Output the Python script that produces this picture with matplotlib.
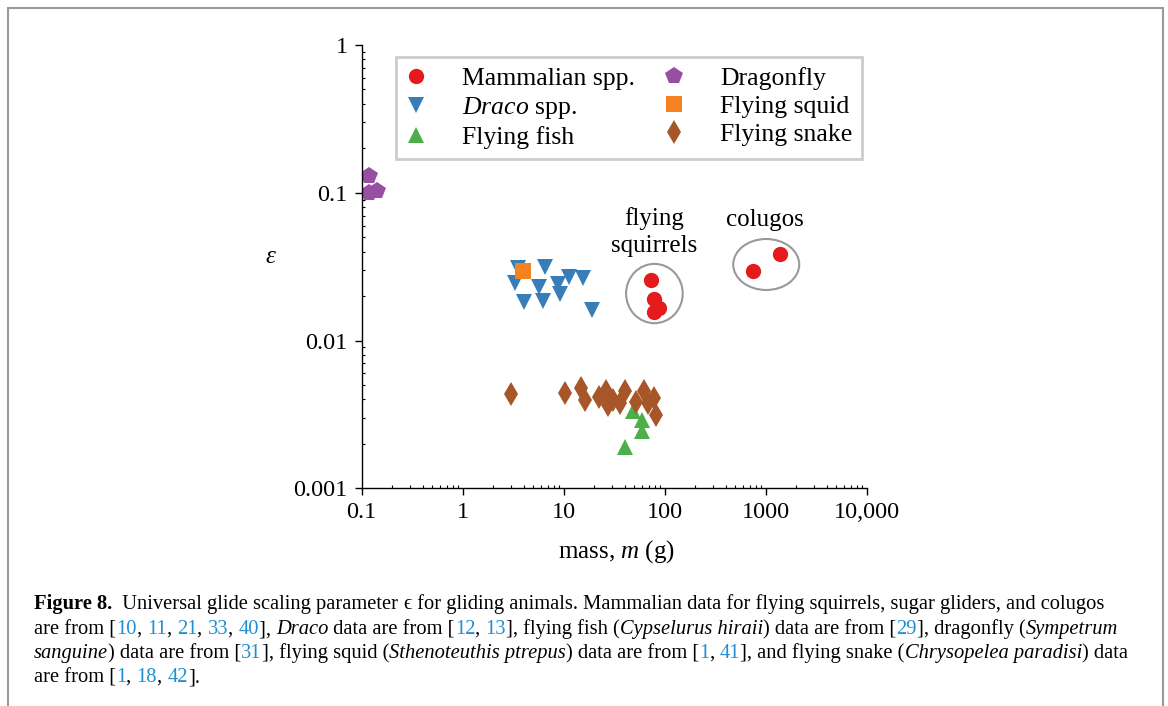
import matplotlib
matplotlib.use("Agg")
import matplotlib.pyplot as plt
import matplotlib.transforms as mtransforms
from matplotlib.patches import Ellipse, Rectangle
from matplotlib.font_manager import FontProperties

# --- données (masse en g, epsilon) ---
mammal_m = [73.4, 77.9, 88.6, 79.1, 752, 1391]
mammal_eps = [0.0257, 0.0191, 0.0165, 0.0156, 0.0297, 0.0384]

draco_m = [3.53, 6.58, 3.32, 5.69, 8.84, 11.3, 15.5, 9.11, 4.02, 6.23, 18.9]
draco_eps = [0.0308, 0.0316, 0.0244, 0.0232, 0.0242, 0.0268, 0.0264, 0.0207, 0.0183, 0.0185, 0.0161]

fish_m = [48.3, 59.8, 59.8, 40.0]
fish_eps = [0.00336, 0.00290, 0.00246, 0.00189]

dragonfly_m = [0.118, 0.118, 0.1416]
dragonfly_eps = [0.130, 0.0997, 0.1029]

squid_m = [3.99]
squid_eps = [0.0297]

snake_m = [2.99, 10.4, 14.7, 16.1, 22.6, 26.4, 27.3, 30.6, 36.5, 40.6, 52.2, 63.0, 77.9, 69.0, 82.2]
snake_eps = [0.00435, 0.00444, 0.00476, 0.00396, 0.00417, 0.00458, 0.00367, 0.00396,
             0.00376, 0.00458, 0.00386, 0.00458, 0.00407, 0.00376, 0.00314]

XTICKS = [0.1, 1, 10, 100, 1000, 10000]
XTICK_LABELS = ['0.1', '1', '10', '100', '1000', '10,000']
YTICKS = [0.001, 0.01, 0.1, 1]
YTICK_LABELS = ['0.001', '0.01', '0.1', '1']

W, H = 1168, 706
CITE = '#1f8fd1'
SERIF = ['Liberation Serif', 'DejaVu Serif']

plt.rcParams['font.family'] = SERIF
plt.rcParams['mathtext.fontset'] = 'custom'
plt.rcParams['mathtext.rm'] = 'Liberation Serif'
plt.rcParams['mathtext.it'] = 'Liberation Serif:italic'

fig = plt.figure(figsize=(W / 100, H / 100), dpi=100)
ax = fig.add_axes([361.7 / W, 1 - 488.3 / H, 505 / W, 443.3 / H])

# séries
ax.plot(mammal_m, mammal_eps, 'o', color='#e41a1c', ms=11, mew=0, label='Mammalian spp.')
ax.plot(draco_m, draco_eps, 'v', color='#377eb8', ms=12, mew=0, label=r'$\it{Draco}$ spp.')
ax.plot(fish_m, fish_eps, '^', color='#4daf4a', ms=12, mew=0, label='Flying fish')
ax.plot(dragonfly_m, dragonfly_eps, 'p', color='#984ea3', ms=13, mew=0, label='Dragonfly')
ax.plot(squid_m, squid_eps, 's', color='#f58220', ms=11.5, mew=0, label='Flying squid')
ax.plot(snake_m, snake_eps, 'd', color='#a65628', ms=12.5, mew=0, label='Flying snake')

ax.set_xscale('log')
ax.set_yscale('log')
ax.set_xlim(0.1, 10000)
ax.set_ylim(0.001, 1)
ax.set_xticks(XTICKS, labels=XTICK_LABELS)
ax.set_yticks(YTICKS, labels=YTICK_LABELS)
ax.spines['top'].set_visible(False)
ax.spines['right'].set_visible(False)
for s in ['left', 'bottom']:
    ax.spines[s].set_linewidth(1.0)
ax.tick_params(which='major', direction='out', length=5, width=1, labelsize=17.5, pad=5)
ax.tick_params(which='minor', direction='in', length=2.5, width=0.8)

ax.set_xlabel(r'mass, $m$ (g)', fontsize=18, va='center')
ax.xaxis.set_label_coords(0.5036, -0.142)
ax.set_ylabel('ε', fontsize=18, rotation=0, style='italic', ha='center', va='center')
ax.yaxis.set_label_coords(-0.1816, 0.5224)

# cercles autour des groupes de mammifères (taille fixe en pouces)
for cx, cy, w, h in [(79.1, 0.0208, 0.566, 0.593), (1012, 0.0327, 0.66, 0.51)]:
    tr = fig.dpi_scale_trans + mtransforms.ScaledTranslation(cx, cy, ax.transData)
    ax.add_patch(Ellipse((0, 0), w, h, transform=tr, fill=False, edgecolor='#999999', lw=1.5))

ax.text(79, 0.0543, 'flying\nsquirrels', ha='center', va='center', fontsize=18, linespacing=1.3)
ax.text(989, 0.0655, 'colugos', ha='center', va='center', fontsize=18)

leg = ax.legend(ncol=2, loc='upper left', bbox_to_anchor=(0.0679, 0.973), fontsize=18.5,
                frameon=True, fancybox=False, edgecolor='#cccccc', framealpha=1,
                borderpad=0.38, borderaxespad=0, handlelength=0.8, handletextpad=1.4,
                columnspacing=1.1, labelspacing=0.2)
leg.get_frame().set_linewidth(2)

# cadre gris autour de la figure
fig.add_artist(Rectangle((8 / W, -0.02), 1155 / W, 1.02 - 8 / H, transform=fig.transFigure,
                         fill=False, edgecolor='#999999', lw=1.5))

# légende de la figure, avec styles mixtes
caption = [
    [("Figure 8.", 'b'), ("  Universal glide scaling parameter ", 'n'), ("ϵ", 'n'),
     (" for gliding animals. Mammalian data for flying squirrels, sugar gliders, and colugos", 'n')],
    [("are from [", 'n'), ("10", 'c'), (", ", 'n'), ("11", 'c'), (", ", 'n'), ("21", 'c'), (", ", 'n'),
     ("33", 'c'), (", ", 'n'), ("40", 'c'), ("], ", 'n'), ("Draco", 'i'), (" data are from [", 'n'),
     ("12", 'c'), (", ", 'n'), ("13", 'c'), ("], flying fish (", 'n'), ("Cypselurus hiraii", 'i'),
     (") data are from [", 'n'), ("29", 'c'), ("], dragonfly (", 'n'), ("Sympetrum", 'i')],
    [("sanguine", 'i'), (") data are from [", 'n'), ("31", 'c'), ("], flying squid (", 'n'),
     ("Sthenoteuthis ptrepus", 'i'), (") data are from [", 'n'), ("1", 'c'), (", ", 'n'), ("41", 'c'),
     ("], and flying snake (", 'n'), ("Chrysopelea paradisi", 'i'), (") data", 'n')],
    [("are from [", 'n'), ("1", 'c'), (", ", 'n'), ("18", 'c'), (", ", 'n'), ("42", 'c'), ("].", 'n')],
]
baselines = [609, 634, 658, 682]
CAP_SIZE = 14.8

renderer = fig.canvas.get_renderer()


def piece_width(txt, fp):
    # largeur avec les espaces finaux (astuce du '|')
    w1, _, _ = renderer.get_text_width_height_descent(txt + '|', fp, ismath=False)
    w2, _, _ = renderer.get_text_width_height_descent('|', fp, ismath=False)
    return w1 - w2


for line, base in zip(caption, baselines):
    x = 34
    for txt, st in line:
        fp = FontProperties(family=SERIF, size=CAP_SIZE,
                            weight='bold' if st == 'b' else 'normal',
                            style='italic' if st == 'i' else 'normal')
        fig.text(x / W, 1 - base / H, txt, fontproperties=fp, va='baseline', ha='left',
                 color=CITE if st == 'c' else 'black')
        x += piece_width(txt, fp)

fig.savefig('out.png', dpi=100)
